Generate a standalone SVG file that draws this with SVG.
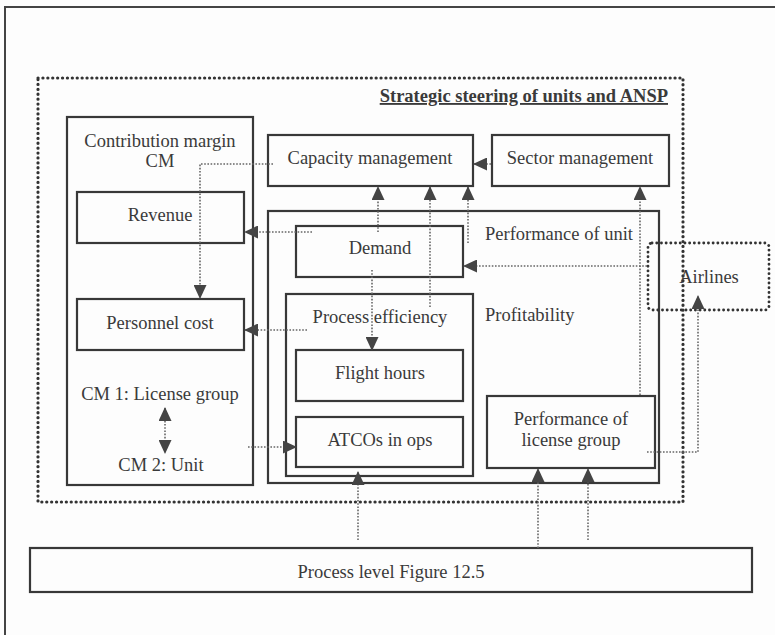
<svg xmlns="http://www.w3.org/2000/svg" width="775" height="635" viewBox="0 0 775 635">
  <style>
    .box { fill: none; stroke: #383838; stroke-width: 2.2; }
    .dotbox { fill: none; stroke: #333; stroke-width: 3.2; stroke-dasharray: 0.1 4.8; stroke-linecap: round; }
    .lbl { font-family: "Liberation Serif", "Times New Roman", serif; font-size: 18.5px; fill: #3a3a3a; }
    .mid { text-anchor: middle; }
    .title { font-weight: bold; text-decoration: underline; text-anchor: end; }
    .conn { fill: none; stroke: #666; stroke-width: 1.6; stroke-dasharray: 1.6 1.6; }
  </style>
  <defs>
    <marker id="arrow" viewBox="0 0 14 13" refX="13" refY="6.5" markerWidth="14" markerHeight="13" markerUnits="userSpaceOnUse" orient="auto-start-reverse">
      <path d="M0,0 L14,6.5 L0,13 Z" fill="#444"/>
    </marker>
  </defs>

  <rect width="775" height="635" fill="#fdfdfd"/>
  <!-- page frame -->
  <path d="M5,635 V7 H775" fill="none" stroke="#444" stroke-width="2"/>

  <!-- strategic steering area -->
  <g id="strategic">
    <rect class="dotbox" x="38" y="78" width="645" height="424"/>
    <text class="lbl title" x="668" y="102">Strategic steering of units and ANSP</text>
  </g>

  <g id="cm">
    <rect class="box" x="67" y="117" width="186" height="368"/>
    <text class="lbl mid" x="160" y="147">Contribution margin</text>
    <text class="lbl mid" x="160" y="167">CM</text>
    <text class="lbl mid" x="160" y="400">CM 1: License group</text>
    <text class="lbl mid" x="161" y="471">CM 2: Unit</text>
  </g>
  <g id="revenue">
    <rect class="box" x="77" y="192" width="167" height="51"/>
    <text class="lbl mid" x="160" y="221">Revenue</text>
  </g>
  <g id="personnel">
    <rect class="box" x="77" y="299" width="167" height="51"/>
    <text class="lbl mid" x="160" y="329">Personnel cost</text>
  </g>
  <g id="capacity">
    <rect class="box" x="268" y="135" width="205" height="51"/>
    <text class="lbl mid" x="370" y="164">Capacity management</text>
  </g>
  <g id="sector">
    <rect class="box" x="492" y="135" width="177" height="51"/>
    <text class="lbl mid" x="580" y="164">Sector management</text>
  </g>
  <g id="unit">
    <rect class="box" x="268" y="211" width="391" height="272"/>
    <text class="lbl" x="485" y="240">Performance of unit</text>
    <text class="lbl" x="485" y="321">Profitability</text>
  </g>
  <g id="demand">
    <rect class="box" x="296" y="226" width="167" height="51"/>
    <text class="lbl mid" x="380" y="254">Demand</text>
  </g>
  <g id="efficiency">
    <rect class="box" x="286" y="294" width="187" height="182"/>
    <text class="lbl mid" x="380" y="323">Process efficiency</text>
  </g>
  <g id="flight">
    <rect class="box" x="296" y="350" width="167" height="51"/>
    <text class="lbl mid" x="380" y="379">Flight hours</text>
  </g>
  <g id="atcos">
    <rect class="box" x="296" y="417" width="167" height="50"/>
    <text class="lbl mid" x="380" y="446">ATCOs in ops</text>
  </g>
  <g id="license">
    <rect class="box" x="487" y="396" width="168" height="72"/>
    <text class="lbl mid" x="571" y="425">Performance of</text>
    <text class="lbl mid" x="571" y="446">license group</text>
  </g>
  <g id="airlines">
    <rect class="dotbox" x="648" y="243" width="121" height="67" rx="4" style="stroke-width:2.8;stroke-dasharray:0.1 4.6"/>
    <text class="lbl mid" x="709" y="283">Airlines</text>
  </g>
  <g id="process">
    <rect class="box" x="30" y="548" width="722" height="44"/>
    <text class="lbl mid" x="391" y="578">Process level Figure 12.5</text>
  </g>

  <!-- connectors -->
  <g id="connectors">
    <path class="conn" d="M491,164 H474" marker-end="url(#arrow)"/>
    <path class="conn" d="M273,164 H200 V298" marker-end="url(#arrow)"/>
    <path class="conn" d="M312,232 H245" marker-end="url(#arrow)"/>
    <path class="conn" d="M307,330 H245" marker-end="url(#arrow)"/>
    <path class="conn" d="M248,447 H296" marker-end="url(#arrow)"/>
    <path class="conn" d="M165,408 V453" marker-start="url(#arrow)" marker-end="url(#arrow)"/>
    <path class="conn" d="M378,232 V187" marker-end="url(#arrow)"/>
    <path class="conn" d="M430,307 V187" marker-end="url(#arrow)"/>
    <path class="conn" d="M468,243 V187" marker-end="url(#arrow)"/>
    <path class="conn" d="M372,270 V350" marker-end="url(#arrow)"/>
    <path class="conn" d="M647,266 H464" marker-end="url(#arrow)"/>
    <path class="conn" d="M640,395 V187" marker-end="url(#arrow)"/>
    <path class="conn" d="M647,452 H698 V296" marker-end="url(#arrow)"/>
    <path class="conn" d="M358,540 V472" marker-end="url(#arrow)"/>
    <path class="conn" d="M538,548 V469" marker-end="url(#arrow)"/>
    <path class="conn" d="M588,540 V469" marker-end="url(#arrow)"/>
  </g>
</svg>
